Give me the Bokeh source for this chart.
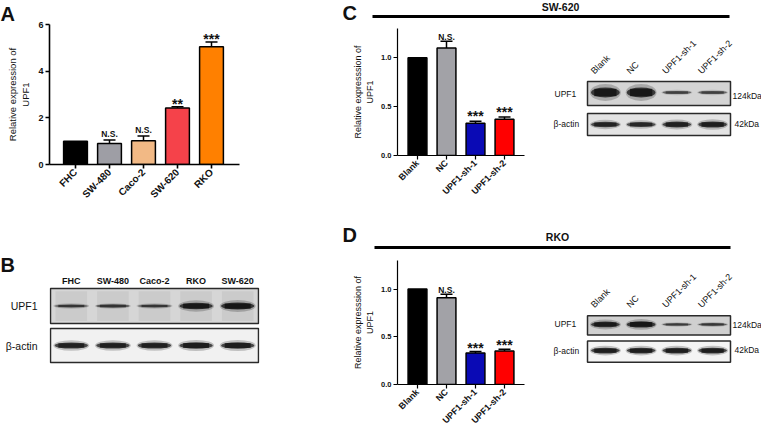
import math
from bokeh.plotting import figure
from bokeh.models import (Range1d, FixedTicker, NumeralTickFormatter,
                          Whisker, TeeHead, ColumnDataSource)
from bokeh.layouts import row, column
from bokeh.embed import file_html
from bokeh.resources import INLINE
from bokeh.core.properties import value

FONT = "Liberation Sans"
INK = "#111111"

# ---------------- data ----------------
# Panel A: qPCR of UPF1 across cell lines
a_cells = ["FHC", "SW-480", "Caco-2", "SW-620", "RKO"]
a_values = [1.00, 0.90, 1.02, 2.42, 5.05]
a_errors = [0.00, 0.15, 0.20, 0.06, 0.20]
a_sig = ["", "N.S.", "N.S.", "**", "***"]
a_colors = ["#000000", "#9e9ea5", "#f2b985", "#f5424a", "#ff8000"]
a_yticks = [0, 2, 4, 6]

# Panels C / D: knockdown
groups = ["Blank", "NC", "UPF1-sh-1", "UPF1-sh-2"]
grp_colors = ["#000000", "#a2a2a7", "#0a0ab5", "#ff0000"]
c_values = [1.00, 1.10, 0.33, 0.37]
c_errors = [0.00, 0.07, 0.02, 0.025]
c_sig = ["", "N.S.", "***", "***"]
d_values = [1.00, 0.91, 0.33, 0.35]
d_errors = [0.00, 0.035, 0.015, 0.02]
d_sig = ["", "N.S.", "***", "***"]
cd_yticks = [0.0, 0.5, 1.0]

# Western blots: relative band strength per lane
b_lanes = ["FHC", "SW-480", "Caco-2", "RKO", "SW-620"]
blot_rows = ["UPF1", "β-actin"]
b_upf1 = [0.55, 0.58, 0.55, 0.97, 1.00]
b_actin = [0.92, 0.92, 0.92, 0.95, 0.95]
c_upf1 = [1.00, 1.00, 0.45, 0.45]
c_actin = [0.85, 0.80, 0.88, 0.92]
d_upf1 = [0.95, 1.00, 0.50, 0.55]
d_actin = [0.95, 0.95, 0.95, 0.95]
kda = ["124kDa", "42kDa"]


# ---------------- helpers ----------------
def style_axis(ax, lw):
    ax.axis_line_width = lw
    ax.axis_line_color = "black"
    ax.major_tick_line_width = lw
    ax.major_tick_line_color = "black"
    ax.major_tick_out = 4
    ax.major_tick_in = 0
    ax.minor_tick_line_color = None
    ax.major_label_text_font = FONT
    ax.major_label_text_font_style = "bold"
    ax.major_label_text_color = INK
    ax.major_label_standoff = 2


def bar_fig(cats, vals, errs, sigs, colors, ymax, yticks, fmt, W, H, L, R, T, B,
            first_px, step_px, axis_px, bar_w, ylabel, tick_fs, xlab_fs, ylab_fs,
            axis_lw, ns_off, star_off, label_standoff):
    fw = W - L - R
    x0 = -first_px / step_px
    x1 = x0 + fw / step_px
    xs = list(range(len(cats)))
    p = figure(x_range=Range1d(x0, x1), y_range=Range1d(0, ymax), width=W, height=H,
               output_backend="svg", toolbar_location=None, min_border_left=L,
               min_border_right=R, min_border_top=T, min_border_bottom=B)
    p.outline_line_color = None
    p.grid.visible = False
    src = ColumnDataSource(dict(x=xs, top=vals, color=colors))
    p.vbar(x="x", top="top", width=bar_w, fill_color="color", line_color="black",
           line_width=1.5, source=src)
    keep = [i for i, e in enumerate(errs) if e > 0]
    wsrc = ColumnDataSource(dict(x=[xs[i] for i in keep],
                                 lower=[vals[i] for i in keep],
                                 upper=[vals[i] + errs[i] for i in keep]))
    p.add_layout(Whisker(base="x", lower="lower", upper="upper", source=wsrc,
                         line_width=1.5, line_color="black",
                         upper_head=TeeHead(size=12, line_width=1.5, line_color="black"),
                         lower_head=None))
    ns = [i for i, s in enumerate(sigs) if s.startswith("N")]
    st = [i for i, s in enumerate(sigs) if s.startswith("*")]
    p.text(x=[xs[i] for i in ns], y=[vals[i] + errs[i] for i in ns], text=[sigs[i] for i in ns],
           text_align="center", text_baseline="alphabetic", y_offset=ns_off,
           text_font=value(FONT), text_font_style="bold", text_font_size="8.5px",
           text_color=INK)
    p.text(x=[xs[i] for i in st], y=[vals[i] + errs[i] for i in st], text=[sigs[i] for i in st],
           text_align="center", text_baseline="alphabetic", y_offset=star_off,
           text_font=value(FONT), text_font_style="bold", text_font_size="14px",
           text_color=INK)
    style_axis(p.xaxis[0], axis_lw)
    style_axis(p.yaxis[0], axis_lw)
    p.xaxis.ticker = FixedTicker(ticks=xs)
    p.xaxis.major_label_overrides = {i: c for i, c in zip(xs, cats)}
    p.xaxis.bounds = (x0, x0 + axis_px / step_px)
    p.xaxis.major_label_text_font_size = xlab_fs
    p.xaxis.major_label_orientation = math.pi / 4
    p.yaxis.ticker = FixedTicker(ticks=yticks)
    p.yaxis.formatter = NumeralTickFormatter(format=fmt)
    p.yaxis.major_label_text_font_size = tick_fs
    p.yaxis.axis_label = ylabel
    p.yaxis.axis_label_text_font = FONT
    p.yaxis.axis_label_text_font_style = "normal"
    p.yaxis.axis_label_text_font_size = ylab_fs
    p.yaxis.axis_label_text_color = INK
    p.yaxis.axis_label_standoff = label_standoff
    return p


def deco_fig(x0, x1, y0, y1, T=0, B=0, L=0, R=0, yaxis=False):
    """Figure whose data units are page pixels (y measured downwards, stored negated)."""
    p = figure(x_range=Range1d(x0 + L, x1 - R), y_range=Range1d(-(y1 - B), -(y0 + T)),
               width=int(x1 - x0), height=int(y1 - y0), output_backend="svg",
               toolbar_location=None, x_axis_type=None,
               y_axis_type="linear" if yaxis else None,
               min_border_left=L, min_border_right=R, min_border_top=T, min_border_bottom=B)
    p.outline_line_color = None
    p.grid.visible = False
    return p


def letter_title(p, s, offset):
    p.title.text = s
    p.title.align = "left"
    p.title.offset = offset
    p.title.standoff = 0
    p.title.text_font = FONT
    p.title.text_font_size = "20px"
    p.title.text_font_style = "bold"
    p.title.text_color = INK


def txt(p, x, y, s, size, bold=False, align="left", baseline="middle", angle=0.0):
    p.text(x=[x], y=[-y], text=[s], text_font=value(FONT), text_font_size=size,
           text_font_style="bold" if bold else "normal", text_align=align,
           text_baseline=baseline, angle=angle, text_color=INK)


def lane_centers(x0, x1, n):
    w = (x1 - x0) / n
    return [x0 + (i + 0.5) * w for i in range(n)], w


def blot_row(p, x0, x1, top, bot, bg, strengths, tmax, yc, smear=0.0):
    n = len(strengths)
    xs, w = lane_centers(x0, x1, n)
    p.quad(left=[x0], right=[x1], top=[-top], bottom=[-bot], fill_color=bg, line_color=None)
    bw = w * 0.8
    if smear > 0:
        p.rect(x=xs, y=[-(top + bot) / 2] * n, width=bw * 0.95, height=(bot - top) * 0.85,
               fill_color="#000000", fill_alpha=smear, line_color=None)
    th = [1.5 + (tmax - 1.5) * v * v for v in strengths]
    al = [0.35 + 0.6 * v for v in strengths]
    ys = [-yc] * n
    p.ellipse(x=xs, y=ys, width=bw * 1.08, height=[t * 1.7 for t in th], fill_color="#000000",
              fill_alpha=[a * 0.22 for a in al], line_color=None)
    p.ellipse(x=xs, y=ys, width=bw, height=th, fill_color="#000000",
              fill_alpha=[a * 0.7 for a in al], line_color=None)
    p.rect(x=xs, y=ys, width=bw * 0.78, height=[t * 0.75 for t in th], fill_color="#000000",
           fill_alpha=[a * 0.6 for a in al], line_color=None)
    p.quad(left=[x0], right=[x1], top=[-top], bottom=[-bot], fill_color=None,
           line_color="#2a2a2a", line_width=1.5)


# ---------------- left column (A, B) ----------------
LW = 300
L_BORDER, R_BORDER = 49, 41          # frame spans page x 57..267 in both A and B

figA = bar_fig(a_cells, a_values, a_errors, a_sig, a_colors, 6, a_yticks, "0",
               LW, 249, L_BORDER, R_BORDER, 24, 85, 26, 34, 190, 0.7,
               "Relative expression of\nUPF1", "9px", "10px", "9.5px", 1.6, -6, -3, 4)
letter_title(figA, "A", 8 - (8 + L_BORDER))

figB = deco_fig(8, 8 + LW, 257, 440, T=26, L=L_BORDER, R=R_BORDER, yaxis=True)
letter_title(figB, "B", 8 - (8 + L_BORDER))
bx0, bx1 = 58, 266
bxs, _ = lane_centers(bx0, bx1, len(b_lanes))
for xc, name in zip(bxs, b_lanes):
    txt(figB, xc, 288, name, "9px", bold=True, align="center")
b_row_y = [313.5, 353]
blot_row(figB, bx0, bx1, 296, 331, "#d6d6d6", b_upf1, 7, b_row_y[0], smear=0.05)
blot_row(figB, bx0, bx1, 336, 370, "#f1f1f1", b_actin, 7, b_row_y[1])
yax = figB.yaxis[0]
yax.ticker = FixedTicker(ticks=[-y for y in b_row_y])
yax.major_label_overrides = {-y: r for y, r in zip(b_row_y, blot_rows)}
yax.axis_line_color = None
yax.major_tick_line_color = None
yax.minor_tick_line_color = None
yax.major_tick_out = 0
yax.major_tick_in = 0
yax.major_label_standoff = 12
yax.major_label_text_font = FONT
yax.major_label_text_font_size = "10.5px"
yax.major_label_text_font_style = "normal"
yax.major_label_text_color = INK

# ---------------- right column (C, D) ----------------
headC = deco_fig(308, 769, 8, 36)
txt(headC, 350, 20, "C", "20px", bold=True, baseline="middle")
txt(headC, 568, 14, "SW-620", "10.5px", bold=True, align="center")
headC.segment(x0=[380], y0=[-24], x1=[737], y1=[-24], line_width=3, line_color="black")

barC = bar_fig(groups, c_values, c_errors, c_sig, grp_colors, 1.3, cd_yticks, "0.0",
               237, 189, 97, 13, 0, 62, 20, 29, 127, 0.65,
               "Relative expresssion of\nUPF1", "7.5px", "9px", "9px", 1.2, -4, -5, 3)

blotC = deco_fig(545, 769, 36, 225, T=0, B=62)
cx0, cx1 = 595, 738
cxs, _ = lane_centers(cx0, cx1, len(groups))
for xc, name in zip(cxs, groups):
    txt(blotC, xc - 13, 80, name, "9px", baseline="alphabetic", angle=math.pi / 4)
blot_row(blotC, cx0, cx1, 89, 113, "#d4d4d4", c_upf1, 10, 100)
blot_row(blotC, cx0, cx1, 121, 143, "#e3e3e3", c_actin, 7, 132)
txt(blotC, 562, 101, blot_rows[0], "8.5px")
txt(blotC, 561, 131, blot_rows[1], "8.5px")
txt(blotC, 740, 103, kda[0], "8.5px")
txt(blotC, 742, 131, kda[1], "8.5px")

headD = deco_fig(308, 769, 225, 262)
txt(headD, 350, 242, "D", "20px", bold=True, baseline="middle")
txt(headD, 565, 244, "RKO", "10.5px", bold=True, align="center")
headD.segment(x0=[382], y0=[-255], x1=[738], y1=[-255], line_width=3, line_color="black")

barD = bar_fig(groups, d_values, d_errors, d_sig, grp_colors, 1.3, cd_yticks, "0.0",
               237, 178, 97, 13, 6, 44, 20, 29, 127, 0.65,
               "Relative expresssion of\nUPF1", "7.5px", "9px", "9px", 1.2, -4, -4, 3)

blotD = deco_fig(545, 769, 262, 440, T=6, B=44)
for xc, name in zip(cxs, groups):
    txt(blotD, xc - 13, 315, name, "9px", baseline="alphabetic", angle=math.pi / 4)
blot_row(blotD, cx0, cx1, 325, 345, "#d0d0d0", d_upf1, 6.5, 334)
blot_row(blotD, cx0, cx1, 351, 373, "#f4f4f4", d_actin, 6.5, 361)
txt(blotD, 562, 334, blot_rows[0], "8.5px")
txt(blotD, 561, 361, blot_rows[1], "8.5px")
txt(blotD, 740, 335, kda[0], "8.5px")
txt(blotD, 742, 360, kda[1], "8.5px")

layout = row(column(figA, figB),
             column(headC, row(barC, blotC), headD, row(barD, blotD)))

open("out.html", "w").write(file_html(layout, INLINE))
